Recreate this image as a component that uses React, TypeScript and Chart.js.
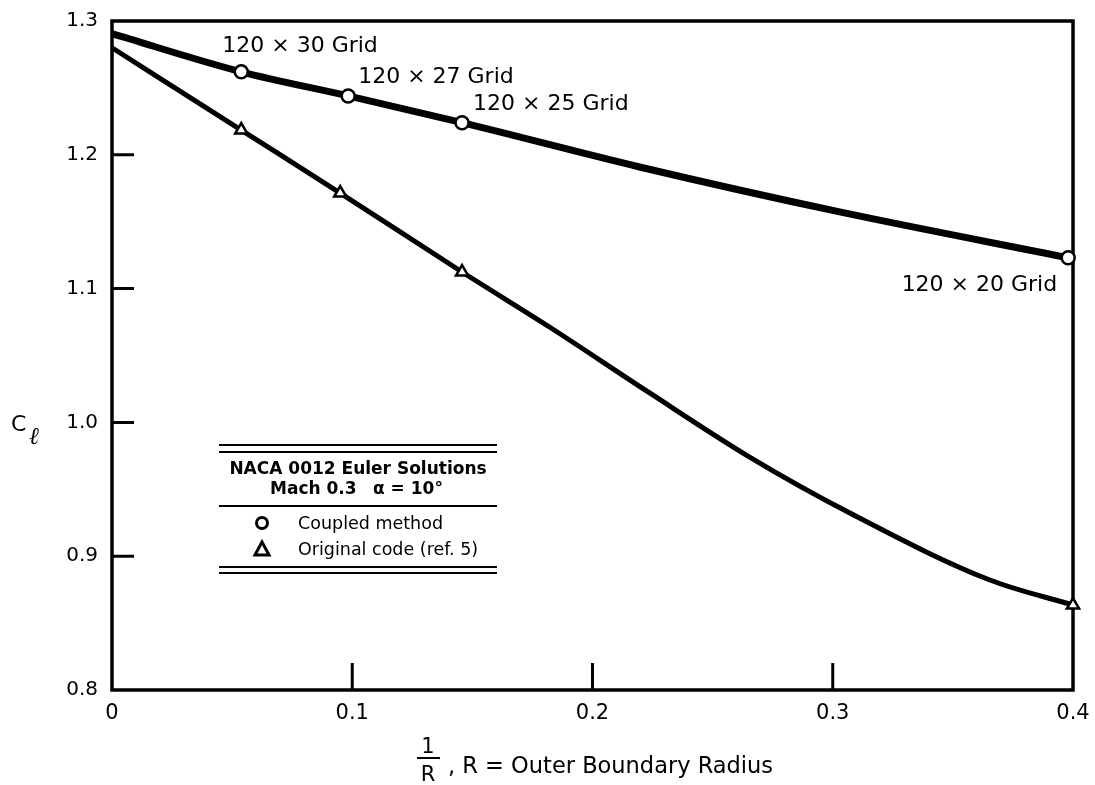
import React, { useEffect, useRef } from 'react';
import { Chart, registerables } from 'chart.js';

Chart.register(...registerables);

const SANS = '"DejaVu Sans", "Liberation Sans", Arial, sans-serif';

// Marker values (1/R, Cl)
const coupledX = [0.0538, 0.0983, 0.1457, 0.398];
const coupledY = [1.262, 1.244, 1.224, 1.123];
const originalX = [0.0538, 0.095, 0.1457, 0.4];
const originalY = [1.2185, 1.1714, 1.1124, 0.8635];

// Faired curves
const coupledCurveX = [0, 0.0538, 0.0983, 0.1457, 0.2196, 0.3029, 0.398];
const coupledCurveY = [1.2905, 1.262, 1.244, 1.224, 1.1909, 1.1573, 1.123];
const originalCurveX = [0, 0.0538, 0.095, 0.1457, 0.1821, 0.2238, 0.2654, 0.3071, 0.3654, 0.4];
const originalCurveY = [1.28, 1.2185, 1.1714, 1.1124, 1.0713, 1.022, 0.9741, 0.9323, 0.8822, 0.8635];

// Grid labels for the coupled-method points
const gridLabels = ['120 \u00d7 30 Grid', '120 \u00d7 27 Grid', '120 \u00d7 25 Grid', '120 \u00d7 20 Grid'];

// Axis ticks
const xTicks = [0, 0.1, 0.2, 0.3, 0.4];
const yTicks = [0.8, 0.9, 1.0, 1.1, 1.2, 1.3];
const xTickMarks = [0.1, 0.2, 0.3];
const yTickMarks = [0.9, 1.0, 1.1, 1.2];

const legendTitle = 'NACA 0012 Euler Solutions';
const legendSub1 = 'Mach 0.3';
const legendSub2 = '\u03b1 = 10\u00b0';
const legendEntries = ['Coupled method', 'Original code (ref. 5)'];

const toPts = (xs: number[], ys: number[]) => xs.map((x, i) => ({ x, y: ys[i] }));

// label placement relative to marker pixel: [dx, dy, align]
const labelOffsets: [number, number, CanvasTextAlign][] = [
  [-19, -26, 'left'],
  [10, -19, 'left'],
  [11, -18, 'left'],
  [-11, 27, 'right'],
];

const decorPlugin = {
  id: 'decor',
  beforeDatasetsDraw(chart: any) {
    const { ctx, chartArea: a, scales } = chart;
    ctx.save();
    ctx.strokeStyle = '#000';
    ctx.lineWidth = 3.5;
    ctx.strokeRect(a.left, a.top, a.right - a.left, a.bottom - a.top);
    ctx.lineWidth = 3;
    ctx.beginPath();
    for (const v of xTickMarks) {
      const px = scales.x.getPixelForValue(v);
      ctx.moveTo(px, a.bottom);
      ctx.lineTo(px, a.bottom - 27);
    }
    for (const v of yTickMarks) {
      const py = scales.y.getPixelForValue(v);
      ctx.moveTo(a.left, py);
      ctx.lineTo(a.left + 22, py);
    }
    ctx.stroke();
    ctx.restore();
  },
  afterDraw(chart: any) {
    const { ctx, scales } = chart;
    ctx.save();
    ctx.fillStyle = '#000';
    ctx.strokeStyle = '#000';
    ctx.textBaseline = 'middle';

    // grid annotations
    ctx.font = `22px ${SANS}`;
    gridLabels.forEach((t, i) => {
      const px = scales.x.getPixelForValue(coupledX[i]);
      const py = scales.y.getPixelForValue(coupledY[i]);
      const [dx, dy, al] = labelOffsets[i];
      ctx.textAlign = al;
      ctx.fillText(t, px + dx, py + dy);
    });

    // y axis title C_l
    ctx.textAlign = 'left';
    ctx.font = `22px ${SANS}`;
    ctx.fillText('C', 11, 425);
    ctx.font = `italic 24px "DejaVu Serif", serif`;
    ctx.fillText('\u2113', 29, 438);

    // x axis title: 1/R , R = Outer Boundary Radius
    ctx.font = `21px ${SANS}`;
    ctx.textAlign = 'center';
    ctx.fillText('1', 428, 748);
    ctx.fillText('R', 428, 776);
    ctx.lineWidth = 2;
    ctx.beginPath();
    ctx.moveTo(417, 758);
    ctx.lineTo(440, 758);
    ctx.stroke();
    ctx.textAlign = 'left';
    ctx.font = `22.5px ${SANS}`;
    ctx.fillText(', R = Outer Boundary Radius', 448, 767);

    // legend box
    const lx0 = 219;
    const lx1 = 497;
    ctx.lineWidth = 2;
    ctx.beginPath();
    for (const y of [445, 452, 506, 567, 573]) {
      ctx.moveTo(lx0, y);
      ctx.lineTo(lx1, y);
    }
    ctx.stroke();
    ctx.font = `bold 17px ${SANS}`;
    ctx.textAlign = 'center';
    ctx.fillText(legendTitle, 358, 470);
    ctx.textAlign = 'left';
    ctx.fillText(legendSub1, 270, 490);
    ctx.fillText(legendSub2, 373, 490);

    ctx.font = `17.5px ${SANS}`;
    ctx.fillText(legendEntries[0], 298, 524);
    ctx.fillText(legendEntries[1], 298, 550);

    // legend symbols
    ctx.lineWidth = 3;
    ctx.beginPath();
    ctx.arc(262, 523, 5.5, 0, Math.PI * 2);
    ctx.stroke();
    ctx.beginPath();
    ctx.moveTo(262, 542);
    ctx.lineTo(269, 555);
    ctx.lineTo(255, 555);
    ctx.closePath();
    ctx.stroke();

    ctx.restore();
  },
};

export default function App() {
  const ref = useRef<HTMLCanvasElement>(null);

  useEffect(() => {
    if (!ref.current) return;
    const chart = new Chart(ref.current, {
      type: 'scatter',
      data: {
        datasets: [
          {
            label: 'Coupled method',
            data: toPts(coupledX, coupledY),
            showLine: false,
            pointStyle: 'circle',
            pointRadius: 6.5,
            pointBorderWidth: 2.5,
            pointBackgroundColor: '#fff',
            pointBorderColor: '#000',
            order: 0,
            clip: false,
          } as any,
          {
            label: 'Original code (ref. 5)',
            data: toPts(originalX, originalY),
            showLine: false,
            pointStyle: 'triangle',
            pointRadius: 7,
            pointBorderWidth: 2.5,
            pointBackgroundColor: '#fff',
            pointBorderColor: '#000',
            order: 0,
            clip: false,
          } as any,
          {
            label: 'coupled curve',
            data: toPts(coupledCurveX, coupledCurveY),
            showLine: true,
            borderColor: '#000',
            borderWidth: 7,
            pointRadius: 0,
            cubicInterpolationMode: 'monotone',
            order: 1,
            clip: false,
          } as any,
          {
            label: 'original curve',
            data: toPts(originalCurveX, originalCurveY),
            showLine: true,
            borderColor: '#000',
            borderWidth: 5,
            pointRadius: 0,
            cubicInterpolationMode: 'monotone',
            order: 1,
            clip: false,
          } as any,
        ],
      },
      options: {
        animation: false,
        responsive: false,
        devicePixelRatio: 1,
        layout: { padding: { left: 0, top: 21, right: 22, bottom: 0 } },
        plugins: {
          legend: { display: false },
          tooltip: { enabled: false },
          title: { display: false },
        },
        scales: {
          x: {
            type: 'linear',
            min: 0,
            max: 0.4,
            afterFit: (s: any) => {
              s.height = 95;
              s.paddingLeft = 0;
              s.paddingRight = 0;
            },
            afterBuildTicks: (s: any) => {
              s.ticks = xTicks.map((v) => ({ value: v }));
            },
            grid: { display: false, drawTicks: false },
            border: { display: false },
            ticks: {
              color: '#000',
              font: { family: SANS, size: 21 },
              padding: 11,
              maxRotation: 0,
              callback: (v: any) => (Number(v) === 0 ? '0' : Number(v).toFixed(1)),
            },
          },
          y: {
            type: 'linear',
            min: 0.8,
            max: 1.3,
            afterFit: (s: any) => {
              s.width = 112;
              s.paddingTop = 0;
              s.paddingBottom = 0;
            },
            afterBuildTicks: (s: any) => {
              s.ticks = yTicks.map((v) => ({ value: v }));
            },
            grid: { display: false, drawTicks: false },
            border: { display: false },
            ticks: {
              color: '#000',
              font: { family: SANS, size: 20 },
              padding: 14,
              callback: (v: any) => Number(v).toFixed(1),
            },
          },
        },
      },
      plugins: [decorPlugin],
    });
    return () => chart.destroy();
  }, []);

  return (
    <div style={{ position: 'absolute', left: 0, top: 0, width: 1095, height: 785, background: '#fff' }}>
      <canvas ref={ref} width={1095} height={785} />
    </div>
  );
}
